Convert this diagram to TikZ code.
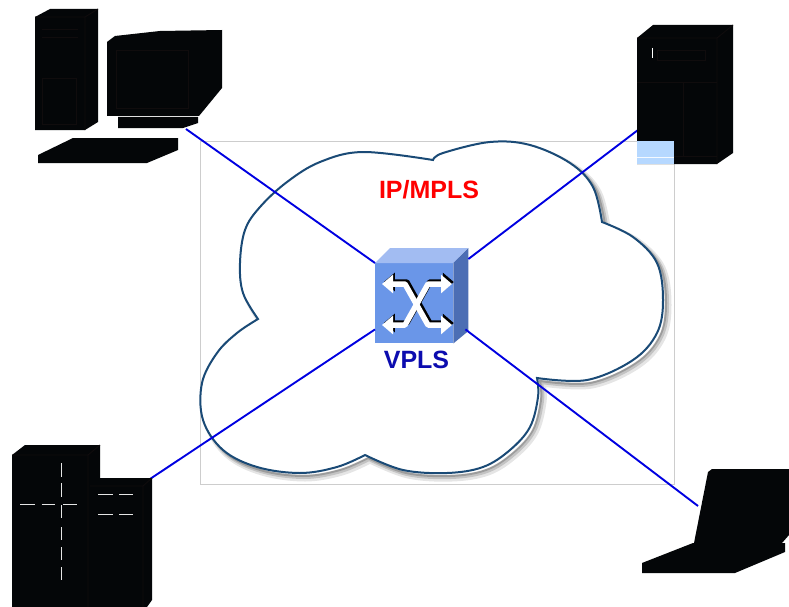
\documentclass[tikz,border=0pt]{standalone}
\usepackage{fontspec}
\setmainfont{Liberation Sans}
\usetikzlibrary{arrows.meta}

\definecolor{linkblue}{RGB}{0,0,225}
\definecolor{cloudline}{RGB}{26,74,118}
\definecolor{frameline}{RGB}{205,205,205}
\definecolor{swfront}{RGB}{106,150,232}
\definecolor{swtop}{RGB}{162,188,242}
\definecolor{swside}{RGB}{76,110,180}
\definecolor{vplsblue}{RGB}{12,12,175}
\definecolor{iconblack}{RGB}{4,6,8}
\definecolor{icondetail}{RGB}{16,12,13}
\definecolor{selblue}{RGB}{182,216,255}

\tikzset{
  link/.style={linkblue, line width=1.9pt},
  icon/.style={fill=iconblack, draw=none},
  detail/.style={icondetail, line width=0.9pt},
  window/.style={white!80!gray, line width=0.9pt},
  label/.style={font=\bfseries\fontsize{25}{25}\selectfont, inner sep=0pt},
  xarrow/.style={line width=5.5pt, line join=round,
    {Triangle[length=11pt,width=18pt]}-{Triangle[length=11pt,width=18pt]}},
  pics/cloudshape/.style={code={
    \path[pic actions]
      plot[smooth,tension=0.6] coordinates {(258,319) (243,293) (240,263) (245,230) (260,207) (287,182) (320,162) (363,152) (433,160)}
      -- plot[smooth,tension=0.6] coordinates {(433,160) (443,153) (490,142) (530,145) (570,163) (593,187) (602,222)}
      -- plot[smooth,tension=0.6] coordinates {(602,222) (633,237) (657,263) (663,300) (657,333) (633,360) (587,380) (537,378)}
      -- plot[smooth,tension=0.6] coordinates {(537,378) (538,397) (530,427) (510,450) (483,467) (447,473) (403,470) (365,455)}
      -- plot[smooth,tension=0.6] coordinates {(365,455) (337,467) (300,473) (257,467) (223,450) (203,420) (202,383) (217,353) (237,333) (258,319)}
      -- cycle;
  }}
}

\begin{document}
\begin{tikzpicture}[x=1pt,y=-1pt]
\useasboundingbox (0,0) rectangle (789,607);

% thin frame behind the network cloud
\draw[frameline, line width=0.8pt] (200,141) rectangle (674,484);

% cloud with its soft drop shadow
\pic[draw=black, draw opacity=0.10, line width=7pt] at (5,5) {cloudshape};
\pic[draw=black, draw opacity=0.15, line width=4pt] at (4,4) {cloudshape};
\pic[draw=black, draw opacity=0.20, line width=2pt] at (3,3) {cloudshape};
\pic[fill=white, draw=cloudline, line width=2pt] {cloudshape};

\node[label, text=red] (ipmpls) at (429,190) {IP/MPLS};

% attachment points of the sites
\coordinate (pcport) at (186,129);
\coordinate (srvport) at (638,130);
\coordinate (bldport) at (150,479);
\coordinate (lapport) at (698,506);

% VPLS switch (front face is the node)
\node[fill=swfront, draw=none, minimum width=78pt, minimum height=80pt, inner sep=0pt,
      anchor=north west] (sw) at (375,263) {};
\fill[swtop] (sw.north west) -- ++(15,-15) -- ++(78,0) -- (sw.north east) -- cycle;
\fill[swside] (sw.north east) -- ++(15,-15) -- ++(0,83) -- (sw.south east) -- cycle;
\coordinate (swnw) at (sw.north west);
\coordinate (swne) at ([xshift=15pt,yshift=4pt]sw.north east);
\coordinate (swsw) at ([yshift=14pt]sw.south west);
\coordinate (swse) at ([xshift=12pt,yshift=14pt]sw.south east);

% links from each site to the switch
\draw[link] (pcport) -- (swnw);
\draw[link] (srvport) -- (swne);
\draw[link] (bldport) -- (swsw);
\draw[link] (lapport) -- (swse);

% crossing arrows on the switch front
\begin{scope}[shift={(1.8,-2)}]
  \draw[xarrow, black] (382,284) -- (405,284) -- (428,325) -- (452,325);
  \draw[xarrow, black] (382,325) -- (405,325) -- (428,284) -- (452,284);
\end{scope}
\draw[xarrow, white] (382,284) -- (405,284) -- (428,325) -- (452,325);
\draw[xarrow, white] (382,325) -- (405,325) -- (428,284) -- (452,284);

\node[label, text=vplsblue] (vpls) at (416.5,360) {VPLS};

% desktop computer
\fill[icon] (35,17) -- (50,9) -- (98,9) -- (98,122) -- (85,130) -- (35,130) -- cycle;
\draw[detail] (35,17) -- (85,17) -- (98,9) (85,17) -- (85,130);
\draw[detail] (42,29) -- (78,29) (42,37) -- (78,37);
\draw[detail] (42,78) rectangle (76,124);
\fill[icon] (107,42) -- (115,36) -- (160,31) -- (222,30) -- (222,88) -- (199,116) -- (107,116) -- cycle;
\draw[detail] (116,50) rectangle (188,108);
\fill[icon] (118,117) -- (198,117) -- (198,123) -- (183,128) -- (118,128) -- cycle;
\fill[icon] (38,155) -- (73,138) -- (178,138) -- (178,150) -- (147,163) -- (38,163) -- cycle;

% server
\fill[icon] (637,38) -- (653,25) -- (733,25) -- (733,153) -- (717,164) -- (637,164) -- cycle;
\draw[detail] (637,38) -- (717,38) -- (733,25) (717,38) -- (717,164);
\draw[detail] (657,50) rectangle (705,60);
\draw[detail] (637,82) -- (717,82) (683,82) -- (683,156) (637,156) -- (717,156);
\draw[white, line width=0.8pt] (652,48) -- (652,58);
\fill[selblue] (637,141) rectangle (674,164);
\draw[white!85!selblue, line width=0.8pt] (637,157) -- (674,157);

% office building
\fill[icon] (12,455) -- (25,445) -- (100,445) -- (100,478) -- (152,478) -- (152,600) -- (147,607) -- (12,607) -- cycle;
\draw[detail] (88,455) -- (88,607) (12,455) -- (88,455) -- (100,445);
\draw[detail] (90,486) -- (143,486) -- (152,478) (143,486) -- (143,607);
\foreach \ya/\yb in {463/477, 483/497, 505/518, 527/540, 547/560, 567/580}
  \draw[window] (61.7,\ya) -- (61.7,\yb);
\draw[window] (20,504) -- (35,504) (41.7,504) -- (55,504) (63,504) -- (76.7,504);
\draw[window] (98,494) -- (112.7,494) (119,494) -- (133,494);
\draw[window] (98,514) -- (112.7,514) (119,514) -- (133,514);

% notebook
\fill[icon] (708,472) -- (712,469) -- (789,469) -- (789,535) -- (782,543) -- (694,543) -- cycle;
\fill[icon] (642,563) -- (693,543) -- (785,543) -- (785,552) -- (735,573) -- (642,573) -- cycle;
\end{tikzpicture}
\end{document}
